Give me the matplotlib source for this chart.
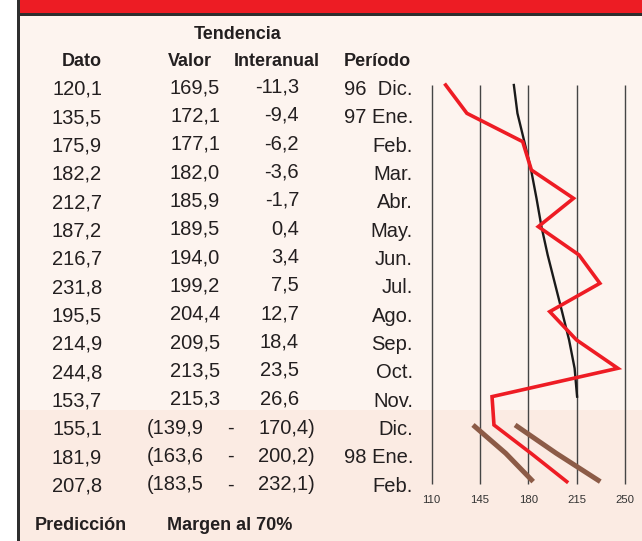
import matplotlib
matplotlib.use("Agg")
import matplotlib.pyplot as plt
from matplotlib.patches import Rectangle
from matplotlib.transforms import blended_transform_factory

# ---------------- data ----------------
periodos = ["96  Dic.", "97 Ene.", "Feb.", "Mar.", "Abr.", "May.", "Jun.", "Jul.",
            "Ago.", "Sep.", "Oct.", "Nov.", "Dic.", "98 Ene.", "Feb."]
dato = [120.1, 135.5, 175.9, 182.2, 212.7, 187.2, 216.7, 231.8, 195.5, 214.9,
        244.8, 153.7, 155.1, 181.9, 207.8]
tend_valor = [169.5, 172.1, 177.1, 182.0, 185.9, 189.5, 194.0, 199.2, 204.4,
              209.5, 213.5, 215.3]
tend_interanual = [-11.3, -9.4, -6.2, -3.6, -1.7, 0.4, 3.4, 7.5, 12.7, 18.4,
                   23.5, 26.6]
pred_low = [139.9, 163.6, 183.5]
pred_high = [170.4, 200.2, 232.1]
xticks = [110, 145, 180, 215, 250]

# ---------------- styling ----------------
W, H = 642, 541
FONT = "Liberation Sans"
TXT = "#231f20"
RED = "#ee1c24"
BROWN = "#8c5b47"
DARK = "#2e2e2e"
LIGHT_BG = "#fdf4ef"
LOW_BG = "#fbebe3"

plt.rcParams["font.family"] = [FONT, "DejaVu Sans"]


def fx(x):
    return x / W


def fy(y):
    return 1 - y / H


def frect(x0, y0, x1, y1, color):
    return Rectangle((fx(x0), fy(y1)), (x1 - x0) / W, (y1 - y0) / H,
                     transform=fig.transFigure, facecolor=color,
                     edgecolor="none", zorder=-10)


def fmt(v):
    return f"{v:.1f}".replace(".", ",")


fig = plt.figure(figsize=(W / 100, H / 100), dpi=100)
fig.patch.set_facecolor("white")

# background panels and frame
fig.patches.extend([
    frect(20, 16, W, 410, LIGHT_BG),
    frect(20, 410, W, H, LOW_BG),
    frect(17, 0, W, 13.5, "#ed1c24"),
    frect(17, 13.3, W, 16, DARK),
    frect(17.3, 0, 20, H, DARK),
])

# ---------------- chart ----------------
months = list(range(len(dato)))
ax_left, ax_right, ax_top, ax_bottom = 431.7, 625.0, 85.0, 484.0
ax = fig.add_axes([fx(ax_left), fy(ax_bottom), (ax_right - ax_left) / W,
                   (ax_bottom - ax_top) / H])
ax.set_zorder(5)
ax.patch.set_visible(False)
ymax = (ax_bottom - ax_top) / 28.33
ax.set_xlim(xticks[0], xticks[-1])
ax.set_ylim(ymax, 0)
for s in ax.spines.values():
    s.set_visible(False)
ax.set_yticks([])
ax.set_xticks(xticks)
ax.set_xticklabels([str(t) for t in xticks], fontsize=8.2, color="#333333")
ax.tick_params(axis="x", length=0, pad=8)

ax.vlines(xticks, 0, ymax, colors="#454545", linewidth=1.0, zorder=1,
          clip_on=False)
ax.plot(tend_valor, months[:len(tend_valor)], color="#1a1a1a", linewidth=1.7,
        clip_on=False, zorder=3)
ax.plot(dato, months, color=RED, linewidth=2.6, clip_on=False,
        solid_joinstyle="miter", zorder=4)
pm = months[len(tend_valor):]
ax.plot(pred_low, pm, color=BROWN, linewidth=3.6, solid_capstyle="butt",
        clip_on=False, zorder=2)
ax.plot(pred_high, pm, color=BROWN, linewidth=3.6, solid_capstyle="butt",
        clip_on=False, zorder=2)

# ---------------- table ----------------
tr = blended_transform_factory(fig.transFigure, ax.transData)
FS = 14.5
for i, m in enumerate(months):
    ax.text(fx(102), m + 0.35, fmt(dato[i]), transform=tr, ha="right",
            va="baseline", fontsize=FS, color=TXT, clip_on=False)
    ax.text(fx(413), m + 0.35, periodos[i], transform=tr, ha="right",
            va="baseline", fontsize=FS, color=TXT, clip_on=False)
for i, v in enumerate(tend_valor):
    ax.text(fx(220), months[i] + 0.29, fmt(v), transform=tr, ha="right",
            va="baseline", fontsize=FS, color=TXT, clip_on=False)
    ax.text(fx(299), months[i] + 0.27, fmt(tend_interanual[i]), transform=tr,
            ha="right", va="baseline", fontsize=FS, color=TXT, clip_on=False)
for j, m in enumerate(pm):
    ax.text(fx(146.7), m + 0.31, "(" + fmt(pred_low[j]), transform=tr,
            ha="left", va="baseline", fontsize=FS, color=TXT, clip_on=False)
    ax.text(fx(230), m + 0.31, "-", transform=tr, ha="center",
            va="baseline", fontsize=FS, color=TXT, clip_on=False)
    ax.text(fx(315), m + 0.31, fmt(pred_high[j]) + ")", transform=tr,
            ha="right", va="baseline", fontsize=FS, color=TXT, clip_on=False)

# headers
HB = dict(fontsize=13, fontweight="bold", color=TXT, va="baseline")
fig.text(fx(237.5), fy(39.3), "Tendencia", ha="center", **HB)
fig.text(fx(81.7), fy(66.5), "Dato", ha="center", **HB)
fig.text(fx(190), fy(66.5), "Valor", ha="center", **HB)
fig.text(fx(277), fy(66.5), "Interanual", ha="center", **HB)
fig.text(fx(377), fy(66.5), "Período", ha="center", **HB)
fig.text(fx(35), fy(530), "Predicción", ha="left", **HB)
fig.text(fx(166.7), fy(530), "Margen al 70%", ha="left", **HB)

fig.savefig("out.png", dpi=100)
